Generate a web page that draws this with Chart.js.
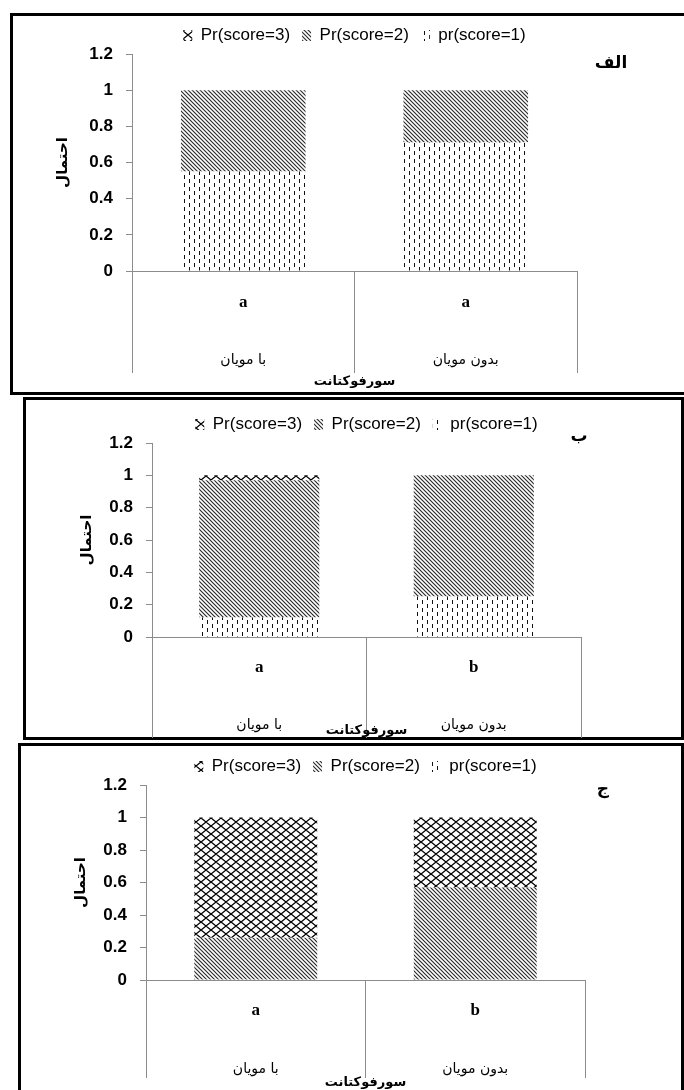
<!DOCTYPE html>
<html>
<head>
<meta charset="utf-8">
<script src="https://cdn.jsdelivr.net/npm/chart.js@4.4.1/dist/chart.umd.min.js"></script>
<style>
  html, body { margin: 0; padding: 0; background: #fff; }
  body { width: 684px; height: 1090px; position: relative; overflow: hidden; }
  .frame { position: absolute; box-sizing: border-box; border: 3px solid #000; }
  canvas { position: absolute; }
  .tag { position: absolute; font: bold 17px 'DejaVu Sans', sans-serif; color: #000;
         transform: translate(-50%, -50%); white-space: nowrap; line-height: 1; }
</style>
</head>
<body>
<div class="frame" style="left:10px;top:13px;width:700px;height:382px;"></div>
<div class="frame" style="left:23px;top:397px;width:661px;height:343px;"></div>
<div class="frame" style="left:18px;top:743px;width:666px;height:380px;"></div>
<canvas id="c1"></canvas>
<canvas id="c2"></canvas>
<canvas id="c3"></canvas>
<div class="tag" id="t1"></div>
<div class="tag" id="t2"></div>
<div class="tag" id="t3"></div>

<script>
// Categories and labels
const groups = ['با مویان', 'بدون مویان'];
const seriesNames = ['pr(score=1)', 'Pr(score=2)', 'Pr(score=3)'];
const yTickLabels = ['0', '0.2', '0.4', '0.6', '0.8', '1', '1.2'];
const panelTags = ['الف', 'ب', 'ج'];
const yTitle = 'احتمال';
const xTitle = 'سورفوکتانت';

// Significance letters per panel
const lettersA = ['a', 'a'];
const lettersB = ['a', 'b'];
const lettersC = ['a', 'b'];

// Stacked probabilities per panel (score 1 at the bottom)
const score1A = [0.55, 0.71];
const score2A = [0.45, 0.29];
const score3A = [0, 0];

const score1B = [0.12, 0.25];
const score2B = [0.85, 0.75];
const score3B = [0.03, 0];

const score1C = [0, 0];
const score2C = [0.26, 0.57];
const score3C = [0.74, 0.43];

// Canvas placement and axis sizing for each panel
const layouts = [
  { left: 13, top: 15,  w: 671, h: 374, axisW: 119, yTitlePad: 41, padR: 107, tick: 102, letterPad: -81, namePad: 33, hx2: 78, tagX: 611, tagY: 62 },
  { left: 26, top: 404, w: 655, h: 334, axisW: 126, yTitlePad: 52, padR: 100, tick: 103, letterPad: -83, namePad: 32, hx2: 61, tagX: 579, tagY: 435 },
  { left: 21, top: 746, w: 660, h: 344, axisW: 125, yTitlePad: 51, padR: 96,  tick: 98,  letterPad: -78, namePad: 33, hx2: 70, tagX: 603, tagY: 788 }
];

const AXIS = '#8c8c8c';
const INK = '#000';

function tile(w, h, draw) {
  const c = document.createElement('canvas');
  c.width = w; c.height = h;
  const g = c.getContext('2d');
  g.fillStyle = '#fff';
  g.fillRect(0, 0, w, h);
  draw(g);
  return c;
}

// short vertical dashes in staggered columns
const dashTile = tile(10, 8, g => {
  g.fillStyle = '#111';
  g.fillRect(1, 0, 1, 4);
  g.fillRect(6, 4, 1, 4);
});

// dense downward diagonals
const diagTile = tile(4, 4, g => {
  g.strokeStyle = '#2a2a2a';
  g.lineWidth = 1.15;
  g.beginPath();
  for (let k = -1; k <= 1; k++) {
    g.moveTo(-2, -2 + 4 * k);
    g.lineTo(6, 6 + 4 * k);
  }
  g.stroke();
});

// diamond lattice
const latticeTile = tile(10, 8, g => {
  g.strokeStyle = '#000';
  g.lineWidth = 1.3;
  g.beginPath();
  for (let k = -1; k <= 1; k++) {
    g.moveTo(-5, -4 + 8 * k);
    g.lineTo(15, 12 + 8 * k);
    g.moveTo(-5, 12 + 8 * k);
    g.lineTo(15, -4 + 8 * k);
  }
  g.stroke();
});

function buildChart(i, letters, series) {
  const L = layouts[i];
  const cv = document.getElementById('c' + (i + 1));
  cv.width = L.w; cv.height = L.h;
  cv.style.left = L.left + 'px';
  cv.style.top = L.top + 'px';
  const ctx = cv.getContext('2d');
  const fills = [dashTile, diagTile, latticeTile].map(t => ctx.createPattern(t, 'repeat'));

  const tag = document.getElementById('t' + (i + 1));
  tag.textContent = panelTags[i];
  tag.style.left = L.tagX + 'px';
  tag.style.top = L.tagY + 'px';

  return new Chart(ctx, {
    type: 'bar',
    data: {
      labels: letters,
      datasets: series.map((d, k) => ({
        label: seriesNames[k],
        data: d,
        backgroundColor: fills[k],
        borderWidth: 0,
        categoryPercentage: 1,
        barPercentage: 0.56
      }))
    },
    options: {
      responsive: false,
      animation: false,
      devicePixelRatio: 1,
      layout: { padding: { left: 0, right: L.padR, top: 0, bottom: 0 } },
      plugins: {
        tooltip: { enabled: false },
        legend: {
          position: 'top',
          fullSize: false,
          reverse: true,
          labels: {
            boxWidth: 9, boxHeight: 11, padding: 12, color: INK,
            font: { family: "'Liberation Sans', Arial, sans-serif", size: 17 }
          }
        }
      },
      scales: {
        x: {
          stacked: true,
          weight: 0,
          grid: { offset: true, drawOnChartArea: false, tickLength: L.tick, color: AXIS, lineWidth: 1 },
          border: { color: AXIS },
          ticks: {
            padding: L.letterPad, color: INK, maxRotation: 0, autoSkip: false,
            font: { family: "'Liberation Serif', 'Times New Roman', serif", size: 17, weight: 'bold' }
          },
          afterFit: s => { s.height = 40; }
        },
        x2: {
          type: 'category',
          position: 'bottom',
          labels: groups,
          offset: true,
          weight: 1,
          grid: { display: false },
          border: { display: false },
          ticks: {
            padding: L.namePad, color: INK, maxRotation: 0, autoSkip: false,
            font: { family: "'DejaVu Sans', sans-serif", size: 14 }
          },
          title: {
            display: true, text: xTitle, color: INK, padding: 0,
            font: { family: "'DejaVu Sans', sans-serif", size: 13, weight: 'bold' }
          },
          afterFit: s => { s.height = L.hx2; }
        },
        y: {
          stacked: true,
          min: 0, max: 1.2,
          ticks: {
            stepSize: 0.2, padding: 13, color: INK,
            callback: (v, idx) => yTickLabels[idx],
            font: { family: "'Liberation Sans', Arial, sans-serif", size: 17, weight: 'bold' }
          },
          grid: { drawOnChartArea: false, tickLength: 6, color: AXIS },
          border: { color: AXIS },
          title: {
            display: true, text: yTitle, color: INK,
            padding: { top: L.yTitlePad, bottom: 0 },
            font: { family: "'DejaVu Sans', sans-serif", size: 15, weight: 'bold' }
          },
          afterFit: s => { s.width = L.axisW; }
        }
      }
    }
  });
}

buildChart(0, lettersA, [score1A, score2A, score3A]);
buildChart(1, lettersB, [score1B, score2B, score3B]);
buildChart(2, lettersC, [score1C, score2C, score3C]);
</script>
</body>
</html>
